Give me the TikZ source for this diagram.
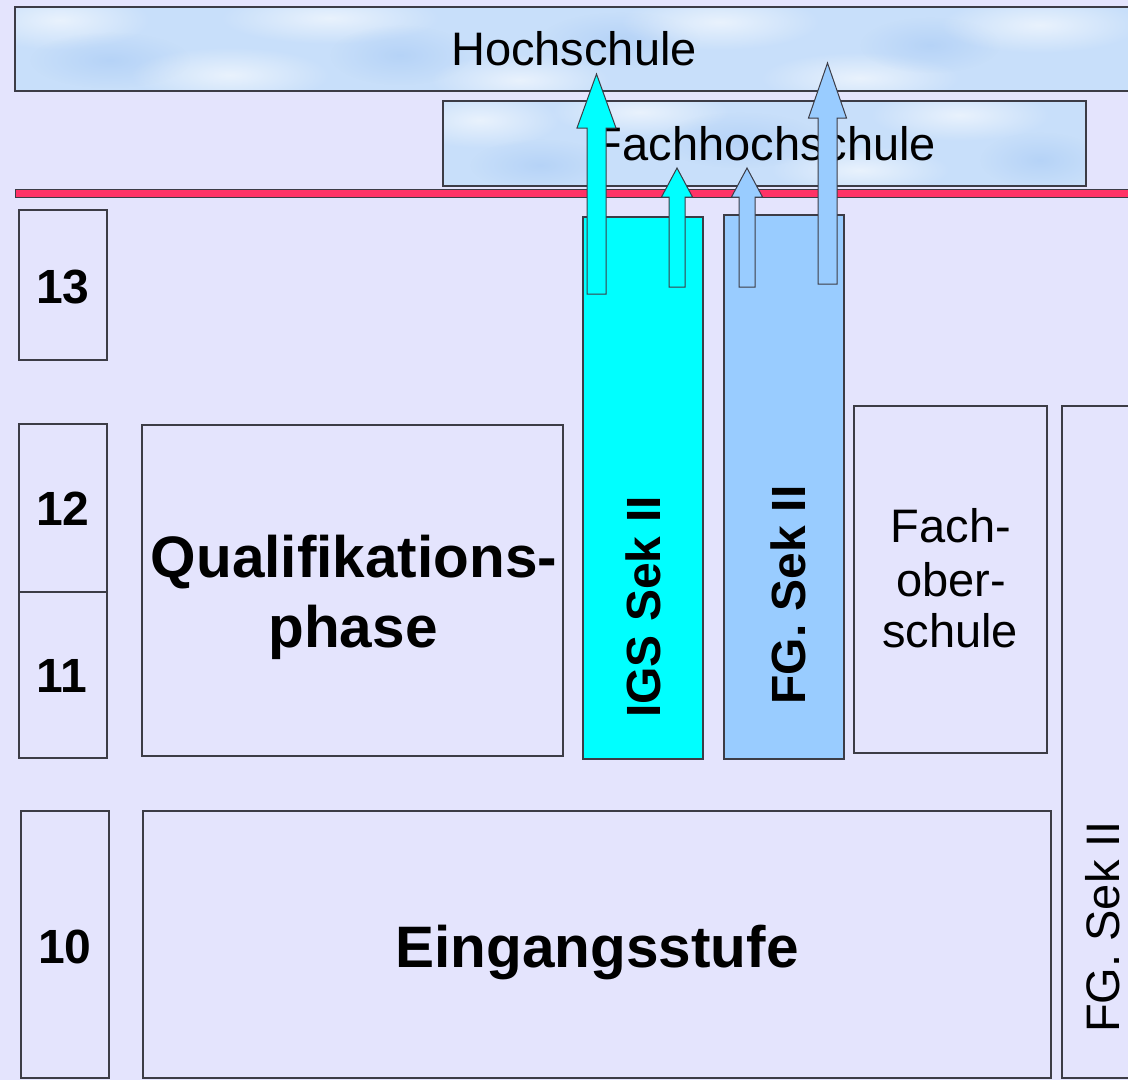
\documentclass[tikz,border=0pt]{standalone}
\usepackage{fontspec}
\setmainfont{Liberation Sans}
\usetikzlibrary{fit,fadings}
\definecolor{bg}{RGB}{228,228,253}
\definecolor{sky}{RGB}{200,223,250}
\definecolor{skydark}{RGB}{180,210,247}
\definecolor{redline}{RGB}{255,51,102}
\definecolor{igs}{RGB}{0,255,255}
\definecolor{fgb}{RGB}{153,204,255}
\definecolor{edge}{RGB}{60,60,70}
\tikzfading[name=softblob, inner color=transparent!0, outer color=transparent!100]
\newcommand\blockarrow[8]{% color, cx, bottom, headbase, tip, shaft half, head half, name
  \filldraw[fill=#1, draw=edge, line width=1pt]
    (#2-#6,#3) -- (#2-#6,#4) -- (#2-#7,#4) -- (#2,#5) -- (#2+#7,#4) -- (#2+#6,#4) -- (#2+#6,#3) -- cycle;
  \coordinate (#8) at (#2,#5);}
\newcommand\cloudblob[4]{% x, y, rx, ry
  \fill[white, opacity=0.6, path fading=softblob] (#1,#2) ellipse [x radius=#3, y radius=#4];}
\newcommand\darkblob[4]{%
  \fill[skydark, opacity=0.9, path fading=softblob] (#1,#2) ellipse [x radius=#3, y radius=#4];}
\begin{document}
\begin{tikzpicture}[x=1pt,y=-1pt,
  box/.style={draw=edge, line width=1.2pt, fill=bg, inner sep=0pt, outer sep=0pt},
  skybox/.style={box, fill=sky},
  reg/.style={font=\fontsize{47}{54}\selectfont, inner sep=0pt},
  num/.style={font=\fontsize{48}{54}\selectfont\bfseries, inner sep=0pt},
  big/.style={font=\fontsize{58.5}{70}\selectfont\bfseries, inner sep=0pt}]
\useasboundingbox (0,0) rectangle (1128,1080);
\clip (0,0) rectangle (1128,1080);
\fill[bg] (0,0) rectangle (1128,1080);

% top boxes
\node[skybox, fit={(15,7) (1140,91)}] (hs) {};
\begin{scope}
  \clip (15,7) rectangle (1140,91);
  \cloudblob{60}{20}{90}{30}
  \darkblob{110}{60}{80}{28}
  \cloudblob{230}{75}{100}{28}
  \cloudblob{330}{18}{110}{26}
  \darkblob{400}{55}{70}{30}
  \cloudblob{520}{80}{90}{26}
  \darkblob{620}{40}{80}{28}
  \cloudblob{720}{22}{100}{28}
  \cloudblob{860}{78}{100}{26}
  \darkblob{930}{45}{70}{28}
  \cloudblob{1040}{25}{100}{28}
\end{scope}
\draw[edge, line width=1.2pt] (hs.south west) rectangle (hs.north east);
\node[skybox, fit={(443,101) (1086,186)}] (fhs) {};
\begin{scope}
  \clip (443,101) rectangle (1086,186);
  \cloudblob{480}{120}{80}{28}
  \darkblob{540}{165}{70}{26}
  \cloudblob{640}{112}{90}{24}
  \darkblob{740}{140}{80}{28}
  \cloudblob{860}{170}{90}{24}
  \cloudblob{960}{115}{90}{26}
  \darkblob{1040}{160}{60}{28}
\end{scope}
\draw[edge, line width=1.2pt] (fhs.south west) rectangle (fhs.north east);
\filldraw[fill=redline, draw=edge, line width=1pt] (15,189) rectangle (1140,197);

% year boxes
\node[box, fit={(19,210) (107,360)}] (y13) {};
\node[box, fit={(19,424) (107,592)}] (y12) {};
\node[box, fit={(19,592) (107,758)}] (y11) {};
\node[box, fit={(21,811) (109,1078)}] (y10) {};

% main boxes
\node[box, fit={(142,425) (563,756)}] (qp) {};
\node[box, fill=igs, fit={(583,217) (703,759)}] (igsbox) {};
\node[box, fill=fgb, fit={(724,215) (844,759)}] (fgbox) {};
\node[box, fit={(854,406) (1047,753)}] (fos) {};
\node[box, fit={(143,811) (1051,1078)}] (eg) {};
\node[box, fit={(1062,406) (1140,1078)}] (fgr) {};

% texts
\node[reg, anchor=base] (ths) at (574,65) {Hochschule};
\node[reg, anchor=base] (tfhs) at (765,160) {Fachhochschule};
\node[num, anchor=base] (t13) at (63,303) {13};
\node[num, anchor=base] (t12) at (63,525) {12};
\node[num, anchor=base] (t11) at (62,692) {11};
\node[num, anchor=base] (t10) at (65,963) {10};
\node[big, anchor=base] (tq1) at (354,577) {Qualifikations-};
\node[big, anchor=base] (tq2) at (353,647) {phase};
\node[big, anchor=base] (teg) at (597,967) {Eingangsstufe};
\node[num, anchor=base, rotate=90] (tigs) at (660,607) {IGS Sek II};
\node[num, anchor=base, rotate=90] (tfg) at (805,595) {FG. Sek II};
\node[reg, anchor=base, rotate=90, text depth=0pt] (tfgr) at (1119,927) {FG. Sek II};
\node[reg, anchor=base] (tf1) at (951,542) {Fach-};
\node[reg, anchor=base] (tf2) at (951,596) {ober-};
\node[reg, anchor=base] (tf3) at (950,647) {schule};

% arrows
\blockarrow{igs}{596.5}{294}{128}{74}{9.5}{19.5}{a1}
\blockarrow{igs}{677}{287}{197}{168}{8}{15.5}{a2}
\blockarrow{fgb}{747}{287}{197}{168}{8}{15.5}{a3}
\blockarrow{fgb}{827.5}{284}{118}{63}{9.5}{19}{a4}
\end{tikzpicture}
\end{document}
